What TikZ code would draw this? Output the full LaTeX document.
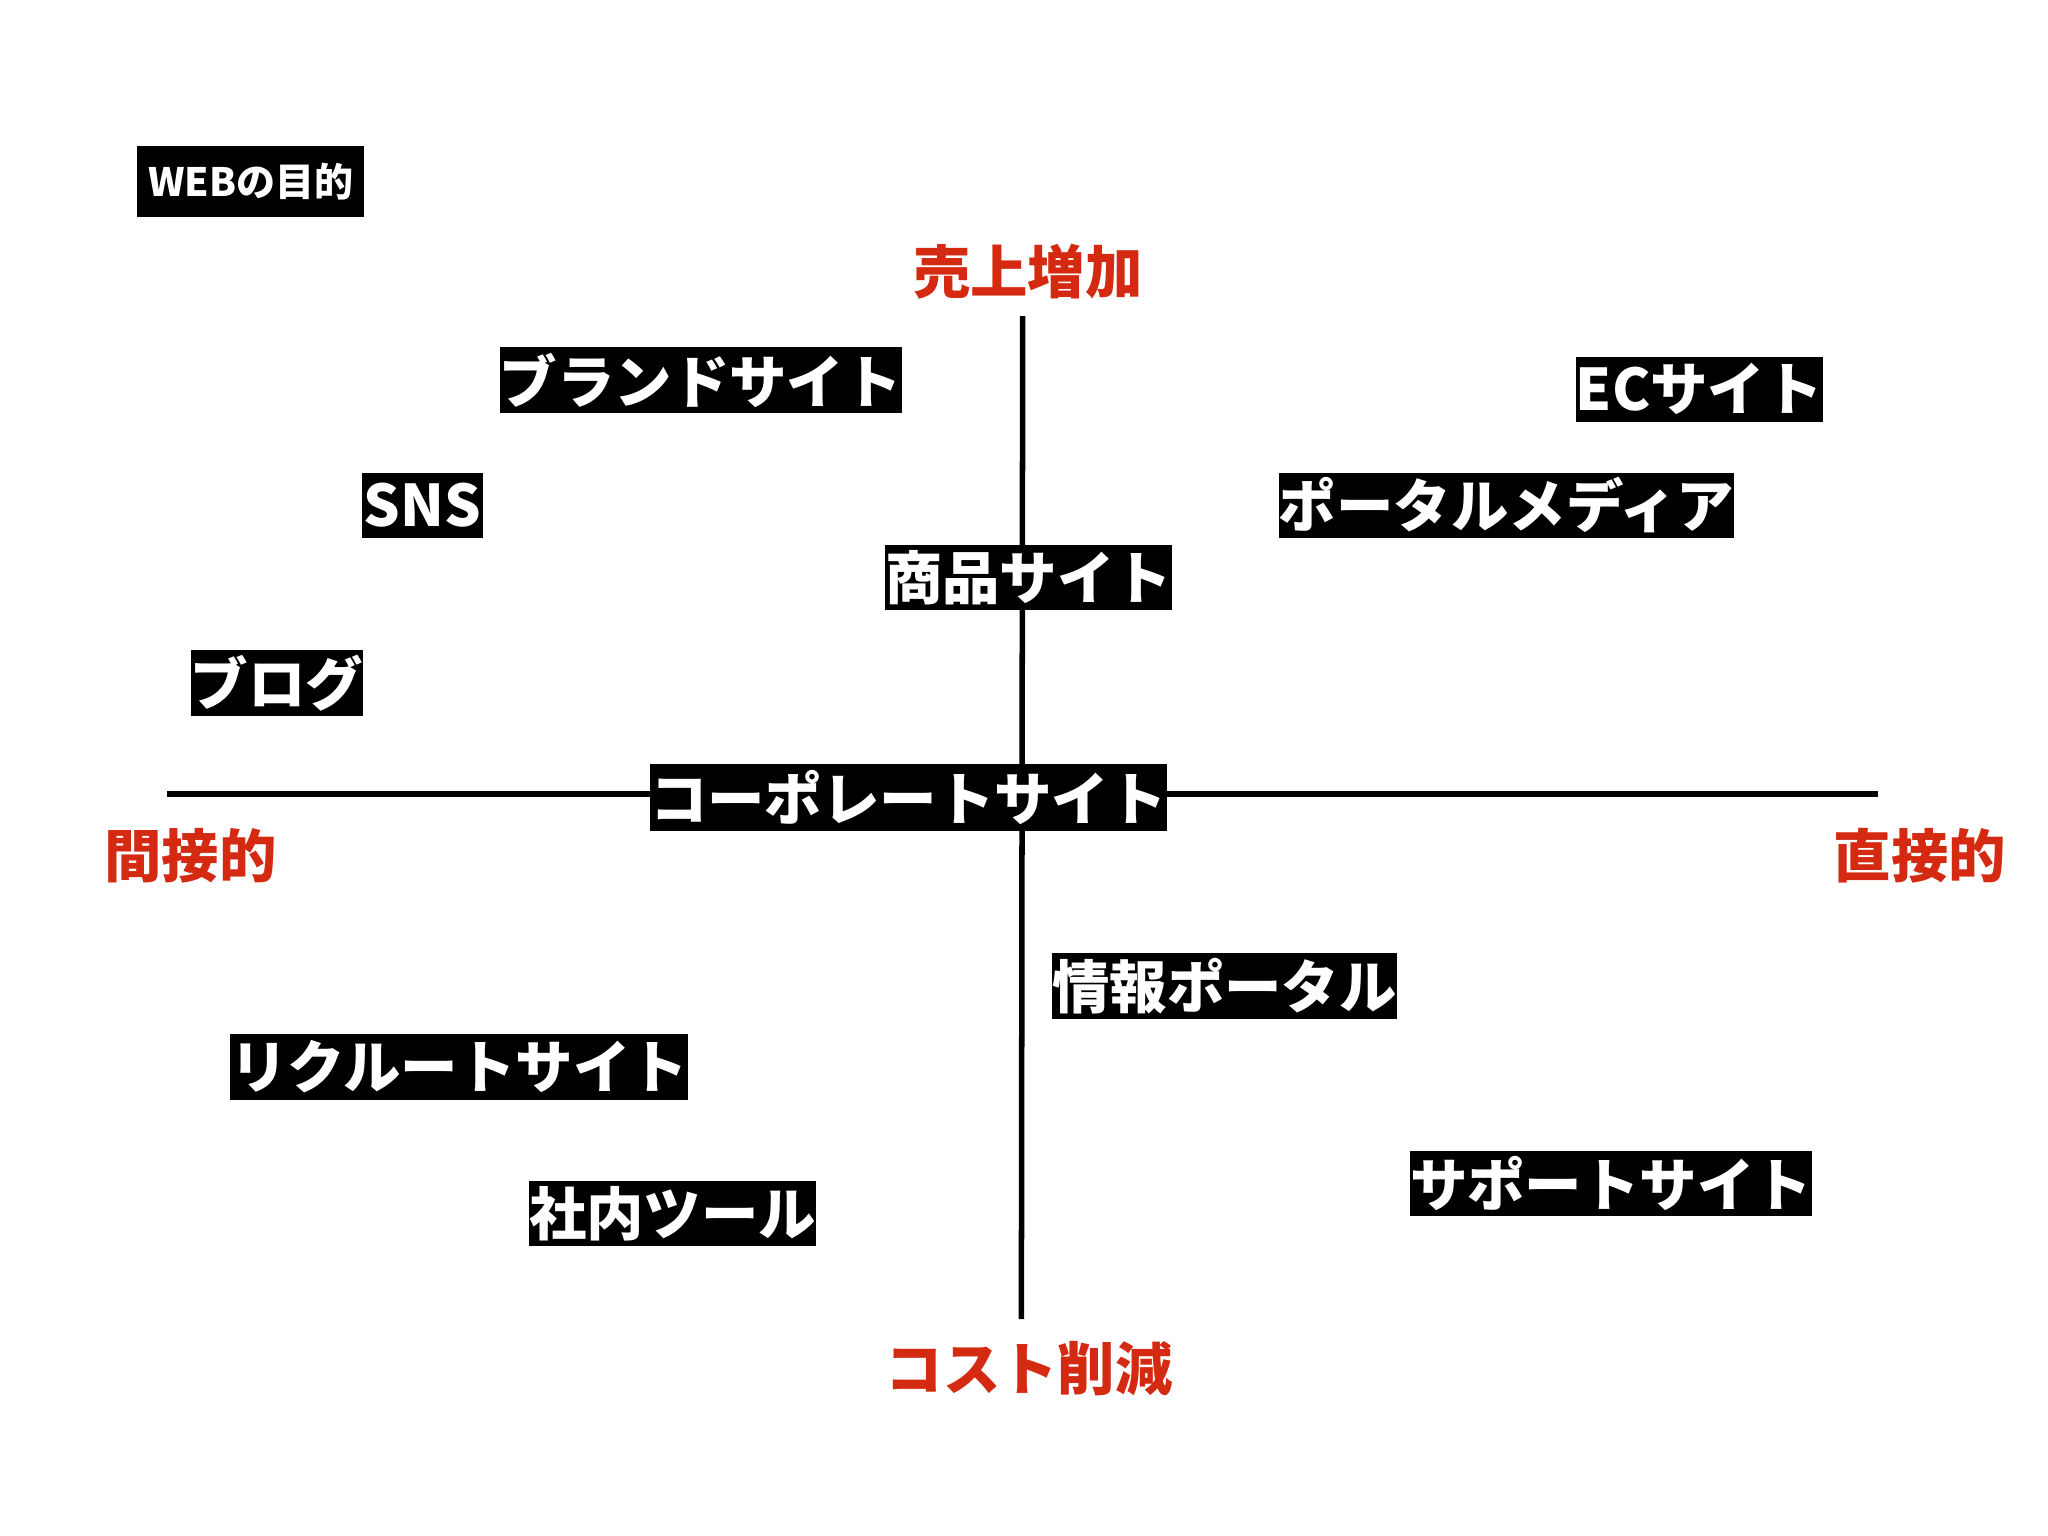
\documentclass[tikz,border=0pt]{standalone}
\usepackage{fontspec}
\setmainfont{Noto Sans CJK JP}
\definecolor{myred}{HTML}{D42A12}
\begin{document}
\begin{tikzpicture}[x=0.01cm,y=-0.01cm,
  lab/.style={fill=black,text=white,font=\fontsize{12.5}{14}\selectfont\bfseries,inner sep=0pt,anchor=center},
  axl/.style={text=myred,font=\fontsize{12.5}{14}\selectfont\bfseries}]
\useasboundingbox (0,0) rectangle (1568,1176);
\draw[line width=1.2pt] (783,242) -- (782,1010);
\draw[line width=1.2pt] (128,608) -- (1438,608);
\newcommand\bx[6]{\node[lab,minimum width={(#3-#2)*0.01cm},minimum height={(#5-#4)*0.01cm}] (#1) at ({(#2+#3)/2},{(#4+#5)/2}) {#6};}
\node[fill=black,text=white,font=\fontsize{8.5}{10}\selectfont\bfseries,inner sep=0pt,minimum width=1.74cm,minimum height=0.54cm] (web) at (192,139) {WEBの目的};
\bx{brand}{391}{682}{266}{316}{ブランドサイト}
\bx{ec}{1210}{1392}{273}{323}{ECサイト}
\bx{sns}{277}{370}{362}{412}{SNS}
\bx{portal}{988}{1319}{362}{412}{ポータルメディア}
\bx{shohin}{682}{893}{417}{467}{商品サイト}
\bx{blog}{146}{278}{498}{548}{ブログ}
\bx{corp}{510}{881}{585}{636}{コーポレートサイト}
\bx{info}{812}{1063}{730}{780}{情報ポータル}
\bx{recruit}{186}{517}{792}{842}{リクルートサイト}
\bx{tool}{409}{621}{904}{954}{社内ツール}
\bx{support}{1088}{1379}{881}{931}{サポートサイト}
\node[axl] (up) at (787,208) {売上増加};
\node[axl] (left) at (146,655) {間接的};
\node[axl] (right) at (1470,655) {直接的};
\node[axl] (down) at (788,1048) {コスト削減};
\end{tikzpicture}
\end{document}
